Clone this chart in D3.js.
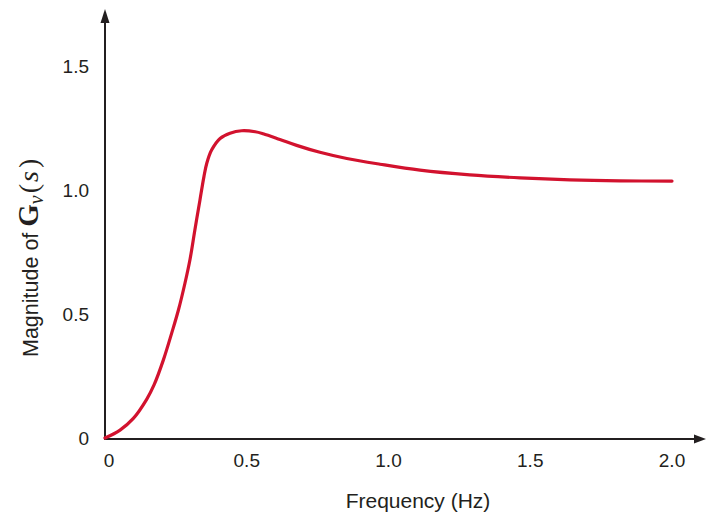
<!DOCTYPE html>
<html>
<head>
<meta charset="utf-8">
<script src="https://cdn.jsdelivr.net/npm/d3@7"></script>
<style>
  body { margin: 0; background: #fff; }
  svg { display: block; font-family: "Liberation Sans", Arial, sans-serif; }
</style>
</head>
<body>
<svg id="chart" width="706" height="519"></svg>
<script>
// Frequency response magnitude of Gv(s)
const freq = [0, 0.053, 0.100, 0.147, 0.173, 0.206, 0.235, 0.259, 0.282, 0.300, 0.317, 0.335, 0.349, 0.359, 0.376, 0.406, 0.441, 0.482, 0.530, 0.558, 0.617, 0.676, 0.758, 0.853, 0.970, 1.111, 1.287, 1.464, 1.640, 1.817, 2.0];
const magnitude = [0, 0.032, 0.079, 0.156, 0.214, 0.315, 0.422, 0.516, 0.624, 0.721, 0.839, 0.960, 1.054, 1.108, 1.161, 1.208, 1.229, 1.239, 1.235, 1.227, 1.204, 1.180, 1.152, 1.127, 1.104, 1.080, 1.061, 1.049, 1.041, 1.037, 1.036];
const xTicks = [0, 0.5, 1.0, 1.5, 2.0];
const xTickLabels = ["0", "0.5", "1.0", "1.5", "2.0"];
const yTicks = [0, 0.5, 1.0, 1.5];
const yTickLabels = ["0", "0.5", "1.0", "1.5"];

const svg = d3.select("#chart");
const x = d3.scaleLinear().domain([0, 2]).range([105, 672]);
const y = d3.scaleLinear().domain([0, 1.5]).range([438, 66]);
const axisColor = "#231f20";
const x0 = x(0), y0 = 439;

// Axis lines with arrowheads
svg.append("line").attr("x1", x0).attr("y1", y0).attr("x2", x0).attr("y2", 20)
  .attr("stroke", axisColor).attr("stroke-width", 2);
svg.append("path").attr("d", `M${x0},9 L${x0 - 4.5},23 L${x0 + 4.5},23 Z`).attr("fill", axisColor);
svg.append("line").attr("x1", x0 - 1).attr("y1", y0).attr("x2", 697).attr("y2", y0)
  .attr("stroke", axisColor).attr("stroke-width", 2);
svg.append("path").attr("d", `M706,${y0} L694,${y0 - 4.5} L694,${y0 + 4.5} Z`).attr("fill", axisColor);

// Tick labels
svg.selectAll(".xt").data(xTicks).enter().append("text")
  .attr("x", (d, i) => x(d) + (i === 0 ? 4 : 0)).attr("y", 467)
  .attr("text-anchor", "middle").attr("font-size", 19).attr("fill", axisColor)
  .text((d, i) => xTickLabels[i]);
svg.selectAll(".yt").data(yTicks).enter().append("text")
  .attr("x", 89).attr("y", d => y(d) + 7)
  .attr("text-anchor", "end").attr("font-size", 19).attr("fill", axisColor)
  .text((d, i) => yTickLabels[i]);

// Axis titles
svg.append("text").attr("x", 418).attr("y", 508).attr("text-anchor", "middle")
  .attr("font-size", 21).attr("fill", axisColor).text("Frequency (Hz)");

const serif = "'Liberation Serif', 'DejaVu Serif', serif";
const yt = svg.append("text").attr("transform", "translate(38,357) rotate(-90)")
  .attr("text-anchor", "start").attr("font-size", 21.5).attr("fill", axisColor);
yt.append("tspan").text("Magnitude of ");
yt.append("tspan").attr("font-family", serif).attr("font-weight", "bold")
  .attr("font-size", 29).text("G");
yt.append("tspan").attr("font-family", serif).attr("font-style", "italic")
  .attr("font-size", 20).attr("dy", 5).text("v");
yt.append("tspan").attr("font-family", serif).attr("font-size", 28)
  .attr("dy", -5).attr("dx", 2).text("(");
yt.append("tspan").attr("font-family", serif).attr("font-style", "italic")
  .attr("font-size", 28).attr("dx", 2).text("s");
yt.append("tspan").attr("font-family", serif).attr("font-size", 28).attr("dx", 3).text(")");

// Response curve
const pts = freq.map((f, i) => [f, magnitude[i]]);
const line = d3.line().x(d => x(d[0])).y(d => y(d[1])).curve(d3.curveCatmullRom.alpha(0.5));
svg.append("path").datum(pts).attr("d", line)
  .attr("fill", "none").attr("stroke", "#d2122e").attr("stroke-width", 3.2)
  .attr("stroke-linecap", "round").attr("stroke-linejoin", "round");
</script>
</body>
</html>
